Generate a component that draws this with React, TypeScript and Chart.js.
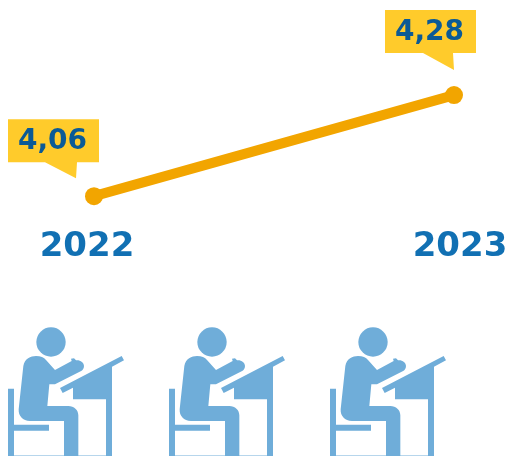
import React, { useEffect, useRef } from "react";
import { Chart, registerables } from "chart.js";

Chart.register(...registerables);

const years = [2022, 2023];
const yearLabels = ["2022", "2023"];
const values = [4.06, 4.28];
const valueLabels = ["4,06", "4,28"];

const W = 509;
const H = 456;
const LINE = "#F2A500";
const CALLOUT = "#FFCB2B";
const VALUE_TEXT = "#0B5A96";
const YEAR_TEXT = "#1170B3";
const ICON = "#6FADD9";

// Callout geometry relative to each point, px
const callouts = [
  { box: [-86, -77, 91, 43], tail: [[-49, -34], [-18, -18], [-17, -34]], text: [-41.5, -54.5] },
  { box: [-69, -85, 91, 43], tail: [[-31, -42], [0, -25], [-1, -42]], text: [-24.5, -62.5] },
];
const iconOffsets = [0, 161, 322];

const figure = new Path2D(
  "M70 150 C74 128 92 120 108 120 C122 120 132 124 138 132 L165 162 L215 135 L213 128 L222 127 L228 133 C240 131 252 140 252 150 C252 157 248 163 242 166 L165 205 L148 205 L142 270 L205 270 C222 270 235 282 235 298 L235 420 L192 420 L192 315 L90 315 C68 315 55 300 56 280 Z"
);
const desk = new Path2D("M180 216 L365 120 L372 133 L336 152 L336 420 L318 420 L318 250 L219 250 L219 215 L188 231 Z");
const chair = new Path2D("M24 218 L42 218 L42 326 L147 326 L147 344 L42 344 L42 420 L24 420 Z");

const decorations = {
  id: "decorations",
  afterDatasetsDraw(chart: any) {
    const { ctx } = chart;
    const pts = chart.getDatasetMeta(0).data;
    ctx.save();
    pts.forEach((p: any, i: number) => {
      const c = callouts[i];
      const [bx, by, bw, bh] = c.box;
      ctx.fillStyle = CALLOUT;
      ctx.beginPath();
      ctx.moveTo(p.x + bx, p.y + by);
      ctx.lineTo(p.x + bx + bw, p.y + by);
      ctx.lineTo(p.x + bx + bw, p.y + by + bh);
      [...c.tail].reverse().forEach(([dx, dy]) => ctx.lineTo(p.x + dx, p.y + dy));
      ctx.lineTo(p.x + bx, p.y + by + bh);
      ctx.closePath();
      ctx.fill();
      ctx.fillStyle = VALUE_TEXT;
      ctx.font = 'bold 28px "DejaVu Sans"';
      ctx.textAlign = "center";
      ctx.textBaseline = "middle";
      ctx.fillText(valueLabels[i], p.x + c.text[0], p.y + c.text[1]);
    });
    iconOffsets.forEach((dx) => {
      ctx.save();
      ctx.translate(dx, 316);
      ctx.scale(1 / 3, 1 / 3);
      ctx.fillStyle = ICON;
      ctx.beginPath();
      ctx.arc(153, 78, 44, 0, Math.PI * 2);
      ctx.fill();
      ctx.fill(figure);
      ctx.fill(desk);
      ctx.fill(chair);
      ctx.globalAlpha = 0.5;
      ctx.fillRect(24, 417, 312, 3);
      ctx.restore();
    });
    ctx.restore();
  },
};

export default function App() {
  const ref = useRef<HTMLCanvasElement>(null);
  useEffect(() => {
    const chart = new Chart(ref.current!, {
      type: "line",
      data: {
        datasets: [
          {
            data: years.map((x, i) => ({ x, y: values[i] })),
            borderColor: LINE,
            backgroundColor: LINE,
            borderWidth: 10,
            pointRadius: 9,
            pointBorderWidth: 0,
            pointBackgroundColor: LINE,
            clip: false,
            tension: 0,
          },
        ],
      },
      options: {
        responsive: false,
        animation: false,
        layout: { autoPadding: false, padding: { left: 0, right: 0, top: 0, bottom: 188 } },
        plugins: { legend: { display: false }, tooltip: { enabled: false } },
        scales: {
          x: {
            type: "linear",
            min: 2022 - 94 / 360,
            max: 2023 + 55 / 360,
            border: { display: false },
            grid: { display: false },
            afterBuildTicks(scale: any) {
              scale.ticks = [{ value: 2022 - 7 / 360 }, { value: 2023 + 6 / 360 }];
            },
            ticks: {
              autoSkip: false,
              maxRotation: 0,
              padding: 0,
              color: YEAR_TEXT,
              font: { family: '"DejaVu Sans"', size: 34, weight: "bold" },
              callback: (_v: any, i: number) => yearLabels[i],
            },
          },
          y: {
            display: false,
            min: 4.06 - 23 * (0.22 / 101),
            max: 4.28 + 95 * (0.22 / 101),
          },
        },
      },
      plugins: [decorations],
    } as any);
    return () => chart.destroy();
  }, []);
  return (
    <div style={{ position: "fixed", left: 0, top: 0, width: W, height: H, background: "#fff" }}>
      <canvas ref={ref} width={W} height={H} style={{ display: "block" }} />
    </div>
  );
}
